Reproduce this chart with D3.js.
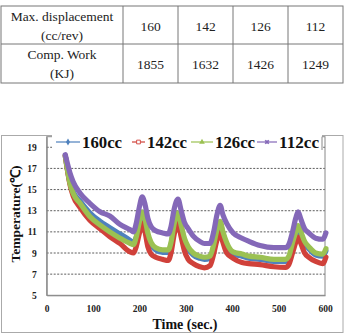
<!DOCTYPE html>
<html><head><meta charset="utf-8">
<script src="https://cdn.jsdelivr.net/npm/d3@7"></script>
<style>body{margin:0;background:#fff;}svg{display:block;}</style>
</head><body>
<svg id="c" width="346" height="335"></svg>
<script>
// ---- table data ----
const tableHeaders = [["Max. displacement","(cc/rev)"],["Comp. Work","(KJ)"]];
const displacement = ["160","142","126","112"];
const compWork = ["1855","1632","1426","1249"];
// ---- chart data ----
const seriesNames = ["160cc","142cc","126cc","112cc"];
const seriesColors = ["#4F81BD","#D0413A","#9BC152","#8468B8"];
const times = [40,50,57,72,93,115,136,158,180,187,193,200,206,212,218,225,235,250,262,268,275,283,290,297,305,316,330,340,352,360,367,374,380,388,402,421,436,460,490,515,522,530,537,542,548,556,565,580,595,602];
const s160 = [18.2,15.7,14.8,13.9,12.8,12.0,11.4,10.8,10.2,10.0,10.5,11.8,12.7,12.0,10.7,9.8,9.3,9.05,9.05,9.8,11.6,12.6,11.4,10.2,9.4,8.8,8.5,8.4,8.5,9.6,11.0,11.8,10.8,9.8,8.9,8.7,8.5,8.4,8.2,8.2,8.5,9.8,10.8,11.4,10.8,9.9,9.4,8.8,8.7,9.2];
const s142 = [18.2,15.5,14.4,13.3,12.1,11.3,10.55,9.9,9.1,9.0,9.6,10.9,11.8,11.0,9.6,8.9,8.6,8.4,8.3,9.0,10.8,11.8,10.5,9.2,8.4,8.0,7.7,7.6,7.8,8.9,10.2,10.9,10.0,9.0,8.5,8.1,8.0,7.9,7.7,7.65,7.9,9.0,10.0,10.5,9.9,9.0,8.6,8.2,8.0,8.6];
const s126 = [18.2,15.6,14.65,13.7,12.45,11.65,11.0,10.4,9.9,9.8,10.5,12.0,12.9,12.2,10.9,10.0,9.5,9.3,9.3,10.0,11.8,12.8,11.6,10.4,9.6,9.0,8.7,8.6,8.7,9.8,11.2,12.0,11.0,10.0,9.1,8.9,8.7,8.6,8.4,8.4,8.7,10.0,11.0,11.6,11.0,10.1,9.6,9.0,8.9,9.4];
const s112 = [18.3,16.6,15.75,14.65,13.7,12.9,12.5,11.7,11.2,11.0,11.8,13.4,14.3,13.6,12.3,11.5,11.1,10.9,10.8,11.5,13.2,14.1,13.0,11.9,11.3,10.6,10.1,9.9,9.9,11.0,12.6,13.5,12.6,11.8,10.9,10.4,10.1,9.7,9.5,9.5,9.8,11.0,12.3,12.9,12.2,11.3,10.9,10.4,10.3,10.9];
const xTicks = [0,100,200,300,400,500,600];
const yTicks = [5,7,9,11,13,15,17,19];

const FONT = "Liberation Serif";
const svg = d3.select("#c").attr("font-family",FONT);

// ---- table ----
const colX = [1,123,178,233,288,343];
const rowY = [6,44,83];
const tg = svg.append("g");
tg.append("rect").attr("x",colX[0]).attr("y",rowY[0]).attr("width",colX[5]-colX[0]).attr("height",rowY[2]-rowY[0])
  .attr("fill","none").attr("stroke","#777").attr("stroke-width",1);
tg.append("line").attr("x1",colX[0]).attr("x2",colX[5]).attr("y1",rowY[1]).attr("y2",rowY[1]).attr("stroke","#777");
colX.slice(1,5).forEach(x=>tg.append("line").attr("x1",x).attr("x2",x).attr("y1",rowY[0]).attr("y2",rowY[2]).attr("stroke","#777"));
const rowsVals = [displacement, compWork];
tableHeaders.forEach((h,r)=>{
  const cy = (rowY[r]+rowY[r+1])/2;
  const cx = (colX[0]+colX[1])/2;
  tg.append("text").attr("x",cx).attr("y",cy-9).attr("text-anchor","middle").attr("dominant-baseline","central")
    .attr("font-family",FONT).attr("font-size",13.5).attr("fill","#222").text(h[0]);
  tg.append("text").attr("x",cx).attr("y",cy+10).attr("text-anchor","middle").attr("dominant-baseline","central")
    .attr("font-family",FONT).attr("font-size",13.5).attr("fill","#222").text(h[1]);
  rowsVals[r].forEach((v,i)=>{
    tg.append("text").attr("x",(colX[i+1]+colX[i+2])/2).attr("y",cy+1).attr("text-anchor","middle").attr("dominant-baseline","central")
      .attr("font-family",FONT).attr("font-size",13.5).attr("fill","#222").text(v);
  });
});

// ---- chart frame ----
svg.append("rect").attr("x",1.5).attr("y",135.5).attr("width",341.5).attr("height",197).attr("fill","none").attr("stroke","#aaa");

const x = d3.scaleLinear().domain([0,600]).range([46.7,325]);
const y = d3.scaleLinear().domain([5,20]).range([295.3,136.7]);

// gridlines
svg.append("g").selectAll("line").data(yTicks.filter(d=>d>5)).join("line")
  .attr("x1",x(0)).attr("x2",x(600)).attr("y1",d=>y(d)).attr("y2",d=>y(d))
  .attr("stroke","#333").attr("stroke-width",0.8).attr("stroke-dasharray","2,1.5");

// plot border
svg.append("rect").attr("x",x(0)).attr("y",y(20)).attr("width",x(600)-x(0)).attr("height",y(5)-y(20))
  .attr("fill","none").attr("stroke","#888").attr("stroke-width",1);

// axes
const xAxis = d3.axisBottom(x).tickValues(xTicks).tickSize(0).tickPadding(10);
const gx = svg.append("g").attr("transform",`translate(0,${y(5)})`).call(xAxis).attr("font-family",FONT).attr("font-size",9.5);
gx.select(".domain").attr("stroke","#888");
gx.selectAll("text").attr("font-family",FONT).attr("font-weight","bold").attr("fill","#222");
const yAxis = d3.axisLeft(y).tickValues(yTicks).tickSize(0).tickPadding(10);
const gy = svg.append("g").attr("transform",`translate(${x(0)},0)`).call(yAxis).attr("font-family",FONT).attr("font-size",9.5);
gy.select(".domain").attr("stroke","#888");
gy.selectAll("text").attr("font-family",FONT).attr("font-weight","bold").attr("fill","#222");

// series lines
const all = [s160,s142,s126,s112];
const line = d3.line().x((d,i)=>x(times[i])).y(d=>y(d)).curve(d3.curveMonotoneX);
all.forEach((s,k)=>{
  svg.append("path").datum(s).attr("d",line).attr("fill","none")
    .attr("stroke",seriesColors[k]).attr("stroke-width",5.2).attr("stroke-linejoin","round").attr("stroke-linecap","round");
});

// legend
const lg = svg.append("g");
lg.append("rect").attr("x",52).attr("y",133).attr("width",270).attr("height",17).attr("fill","#fff");
lg.append("line").attr("x1",322).attr("x2",322).attr("y1",136.7).attr("y2",150).attr("stroke","#888");
const legX = [56,132,191,257];
const legLineW = [24,13,22,20];
const symTypes = [d3.symbolDiamond, d3.symbolSquare, d3.symbolTriangle, d3.symbolCross];
legX.forEach((lx,i)=>{
  const ly = 142;
  lg.append("line").attr("x1",lx).attr("x2",lx+legLineW[i]).attr("y1",ly).attr("y2",ly).attr("stroke",seriesColors[i]).attr("stroke-width",1.2);
  const sym = lg.append("path").attr("transform",`translate(${lx+legLineW[i]/2},${ly})` + (i===3?" rotate(45)":""))
    .attr("d",d3.symbol().type(symTypes[i]).size(14)());
  if(i===1) sym.attr("fill","#fff").attr("stroke",seriesColors[i]).attr("stroke-width",0.9);
  else sym.attr("fill",seriesColors[i]);
  lg.append("text").attr("x",lx+legLineW[i]+2).attr("y",ly).attr("dominant-baseline","central")
    .attr("textLength",40).attr("lengthAdjust","spacingAndGlyphs")
    .attr("font-family",FONT).attr("font-size",16).attr("font-weight","bold").attr("fill","#111").text(seriesNames[i]);
});

// axis titles
svg.append("text").attr("x",185).attr("y",324).attr("text-anchor","middle").attr("dominant-baseline","central")
  .attr("font-family",FONT).attr("font-size",14).attr("font-weight","bold").attr("fill","#111").text("Time (sec.)");
svg.append("text").attr("transform","translate(15,214) rotate(-90)").attr("text-anchor","middle").attr("dominant-baseline","central")
  .attr("font-family",FONT).attr("font-size",13.5).attr("font-weight","bold").attr("fill","#111").text("Temperature(℃)");
</script>
</body></html>
